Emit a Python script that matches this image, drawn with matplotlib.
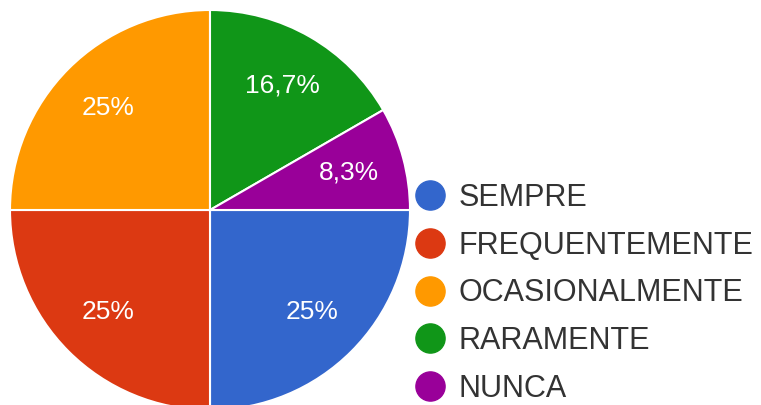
import matplotlib
matplotlib.use("Agg")
import matplotlib.pyplot as plt
from matplotlib.lines import Line2D

categories = ["SEMPRE", "FREQUENTEMENTE", "OCASIONALMENTE", "RARAMENTE", "NUNCA"]
counts = [3, 3, 3, 2, 1]
colors = ["#3366cc", "#dc3912", "#ff9900", "#109618", "#990099"]

plt.rcParams["font.family"] = ["Liberation Sans", "DejaVu Sans"]

W, H = 761, 405
fig = plt.figure(figsize=(W / 100, H / 100), dpi=100)

# pie centred at (210, 210) px with radius 200 px
cx, cy, r = 210, 210, 200
ax = fig.add_axes([(cx - r) / W, (H - cy - r) / H, 2 * r / W, 2 * r / H])


def fmt(p):
    s = f"{p:.1f}".replace(".", ",")
    if s.endswith(",0"):
        s = s[:-2]
    return s + "%"


wedges, texts, autotexts = ax.pie(
    counts,
    colors=colors,
    startangle=0,
    counterclock=False,
    autopct=fmt,
    pctdistance=0.72,
    wedgeprops=dict(edgecolor="white", linewidth=1.5),
    textprops=dict(color="white", fontsize=19),
)
ax.set_xlim(-1, 1)
ax.set_ylim(-1, 1)
ax.set_aspect("equal")

handles = [
    Line2D([], [], marker="o", linestyle="none", markersize=21,
           markerfacecolor=c, markeredgecolor=c)
    for c in colors
]
fig.legend(
    handles, categories,
    loc="upper left",
    bbox_to_anchor=(415 / W, 1 - 183 / H),
    frameon=False,
    fontsize=22,
    labelcolor="#333333",
    handlelength=1.0,
    handletextpad=0.42,
    labelspacing=0.58,
    borderpad=0.0,
    borderaxespad=0.0,
)

fig.savefig("out.png", dpi=100)
